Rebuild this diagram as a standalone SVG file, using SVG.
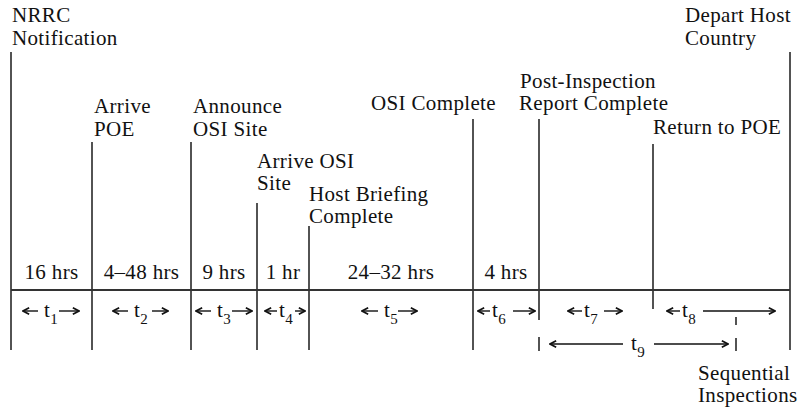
<svg xmlns="http://www.w3.org/2000/svg" width="798" height="409" viewBox="0 0 798 409">
<style>
text{font-family:"Liberation Serif","DejaVu Serif","Times New Roman",serif;font-size:21px;letter-spacing:0.35px;fill:#111}
.c{text-anchor:middle}
.sub{font-size:15px;letter-spacing:0}
.v{stroke:#1a1a1a;stroke-width:1.5;fill:none}
.h{stroke:#333;stroke-width:2;fill:none}
.a{stroke:#111;stroke-width:1.4;fill:none}
</style>
<defs>
<marker id="ah" viewBox="0 0 10 10" refX="9" refY="5" markerWidth="9.5" markerHeight="9.5" markerUnits="userSpaceOnUse" orient="auto-start-reverse">
<path d="M2.5,1.5 L9,5 L2.5,8.5" fill="none" stroke="#111" stroke-width="1.7"/>
</marker>
</defs>
<rect width="798" height="409" fill="#fff"/>
<g id="nrrc"><text x="12" y="22">NRRC</text><text x="12" y="45">Notification</text><line class="v" x1="11" y1="52" x2="11" y2="350"/></g>
<g id="arrive-poe"><text x="94" y="113">Arrive</text><text x="94" y="136">POE</text><line class="v" x1="92" y1="142" x2="92" y2="350"/></g>
<g id="announce"><text x="193" y="113">Announce</text><text x="193" y="136">OSI Site</text><line class="v" x1="191" y1="142" x2="191" y2="350"/></g>
<g id="arrive-osi"><text x="257" y="168">Arrive OSI</text><text x="257" y="190">Site</text><line class="v" x1="257" y1="203" x2="257" y2="350"/></g>
<g id="host-briefing"><text x="309" y="201">Host Briefing</text><text x="309" y="223">Complete</text><line class="v" x1="309" y1="226" x2="309" y2="350"/></g>
<g id="osi-complete"><text x="371" y="110">OSI Complete</text><line class="v" x1="473" y1="119" x2="473" y2="350"/></g>
<g id="post-inspection"><text x="520" y="88">Post-Inspection</text><text x="519" y="110">Report Complete</text><line class="v" x1="539" y1="119" x2="539" y2="320"/><line class="v" x1="539" y1="337" x2="539" y2="351"/></g>
<g id="return-poe"><text x="653" y="134">Return to POE</text><line class="v" x1="653" y1="144" x2="653" y2="309"/></g>
<g id="depart"><text x="685" y="22">Depart Host</text><text x="685" y="45">Country</text><line class="v" x1="790" y1="52" x2="790" y2="350"/></g>
<g id="sequential"><text x="698" y="380">Sequential</text><text x="698" y="402">Inspections</text><line class="v" x1="736" y1="317" x2="736" y2="325"/><line class="v" x1="736" y1="338" x2="736" y2="351"/></g>
<g id="timeline"><line class="h" x1="11" y1="290" x2="790" y2="290"/></g>
<g id="durations">
<text class="c" x="51.5" y="279">16 hrs</text>
<text class="c" x="141.5" y="279">4–48 hrs</text>
<text class="c" x="224" y="279">9 hrs</text>
<text class="c" x="283" y="279">1 hr</text>
<text class="c" x="391" y="279">24–32 hrs</text>
<text class="c" x="506" y="279">4 hrs</text>
</g>
<g id="t-labels">
<text x="44" y="317">t<tspan class="sub" dy="7">1</tspan></text>
<text x="134" y="317">t<tspan class="sub" dy="7">2</tspan></text>
<text x="217" y="317">t<tspan class="sub" dy="7">3</tspan></text>
<text x="279" y="317">t<tspan class="sub" dy="7">4</tspan></text>
<text x="384" y="317">t<tspan class="sub" dy="7">5</tspan></text>
<text x="492" y="317">t<tspan class="sub" dy="7">6</tspan></text>
<text x="584" y="317">t<tspan class="sub" dy="7">7</tspan></text>
<text x="682" y="317">t<tspan class="sub" dy="7">8</tspan></text>
<text x="631" y="350">t<tspan class="sub" dy="7">9</tspan></text>
</g>
<g id="connectors">
<line class="a" x1="23" y1="311" x2="38" y2="311" marker-start="url(#ah)"/>
<line class="a" x1="59" y1="311" x2="79" y2="311" marker-end="url(#ah)"/>
<line class="a" x1="113" y1="311" x2="128" y2="311" marker-start="url(#ah)"/>
<line class="a" x1="152" y1="311" x2="168" y2="311" marker-end="url(#ah)"/>
<line class="a" x1="196" y1="311" x2="211" y2="311" marker-start="url(#ah)"/>
<line class="a" x1="232" y1="311" x2="252" y2="311" marker-end="url(#ah)"/>
<line class="a" x1="265" y1="311" x2="277" y2="311" marker-start="url(#ah)"/>
<line class="a" x1="295" y1="311" x2="305" y2="311" marker-end="url(#ah)"/>
<line class="a" x1="362" y1="311" x2="378" y2="311" marker-start="url(#ah)"/>
<line class="a" x1="398" y1="311" x2="417" y2="311" marker-end="url(#ah)"/>
<line class="a" x1="478" y1="311" x2="490" y2="311" marker-start="url(#ah)"/>
<line class="a" x1="513" y1="311" x2="535" y2="311" marker-end="url(#ah)"/>
<line class="a" x1="568" y1="311" x2="582" y2="311" marker-start="url(#ah)"/>
<line class="a" x1="604" y1="311" x2="622" y2="311" marker-end="url(#ah)"/>
<line class="a" x1="667" y1="311" x2="680" y2="311" marker-start="url(#ah)"/>
<line class="a" x1="703" y1="311" x2="775" y2="311" marker-end="url(#ah)"/>
<line class="a" x1="550" y1="344" x2="623" y2="344" marker-start="url(#ah)"/>
<line class="a" x1="654" y1="344" x2="728" y2="344" marker-end="url(#ah)"/>
</g>
</svg>
